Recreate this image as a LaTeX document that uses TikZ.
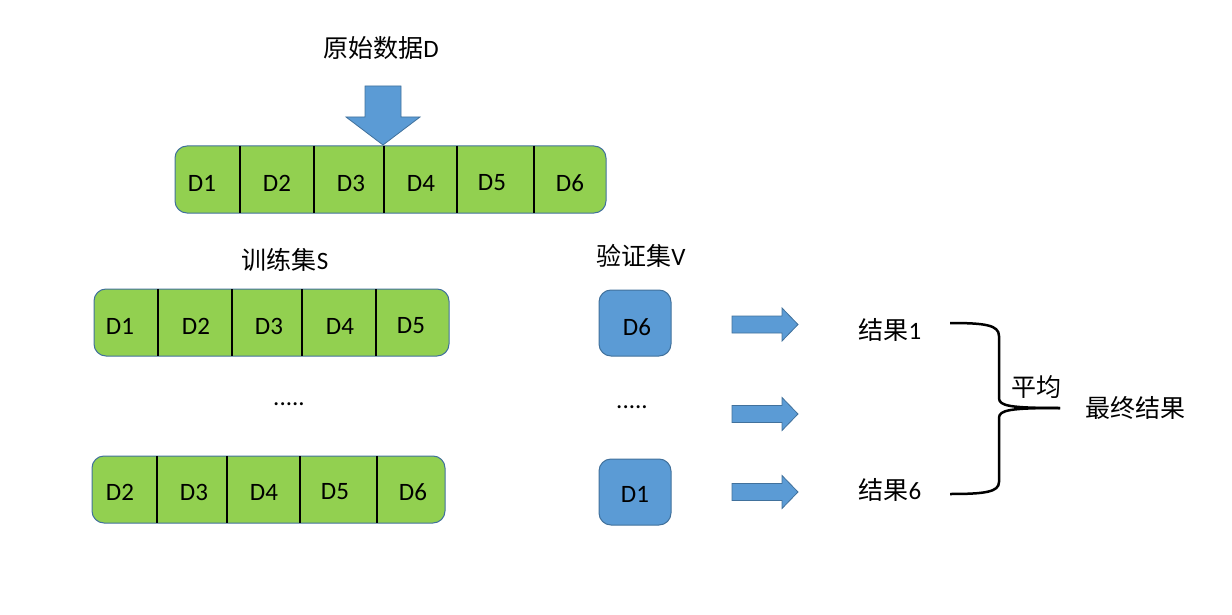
\documentclass[tikz,border=0pt]{standalone}
\usepackage{fontspec}
\setmainfont{Carlito}
\newfontfamily\cjk{Noto Sans CJK SC}
\definecolor{gfill}{HTML}{92D050}
\definecolor{bfill}{HTML}{5B9BD5}
\definecolor{bline}{HTML}{41719C}
\tikzset{
  txt/.style={inner sep=0pt, font=\fontsize{25}{30}\selectfont},
  gbar/.style={draw=bline, fill=gfill, line width=1pt, rounded corners=12pt, inner sep=0pt},
  bbox/.style={draw=bline, fill=bfill, line width=1pt, rounded corners=12pt, inner sep=0pt, minimum width=72pt, minimum height=66pt},
  divider/.style={line width=2pt, black},
  barrow/.style={draw=bline, fill=bfill, line width=0.8pt},
  brace/.style={line width=2.5pt, black}
}
\begin{document}
\begin{tikzpicture}[x=1pt,y=-1pt]
\useasboundingbox (0,0) rectangle (1232,615);
% title
\node[txt] (title) at (381,48) {{\cjk 原始数据}D};
% down arrow
\draw[barrow] (365,86)--(401,86)--(401,117)--(420,117)--(383,145)--(346,117)--(365,117)--cycle;
% top bar
\node[gbar, minimum width=431pt, minimum height=67pt] (bar0) at (390.5,179.5) {};
\foreach \x in {240,314,384,457,534} \draw[divider] (\x,146) -- (\x,213);
\foreach \x/\t [count=\i] in {202/D1,277/D2,351/D3,421/D4,492/D5,570/D6}
  \node[txt] (t\i) at (\x,183) {\t};
% training set
\node[txt] (train) at (285,260) {{\cjk 训练集}S};
\node[gbar, minimum width=355pt, minimum height=67pt] (bar1) at (271.5,322.5) {};
\foreach \x in {158,232,302,376} \draw[divider] (\x,289) -- (\x,356);
\foreach \x/\t [count=\i] in {120/D1,196/D2,269/D3,340/D4,411/D5}
  \node[txt] (a\i) at (\x,326) {\t};
\node[txt] (dots1) at (289,404) {.....};
\node[gbar, minimum width=353pt, minimum height=67pt] (bar2) at (268.5,489.5) {};
\foreach \x in {157,227,300,377} \draw[divider] (\x,456) -- (\x,523);
\foreach \x/\t [count=\i] in {120/D2,194/D3,264/D4,335/D5,413/D6}
  \node[txt] (b\i) at (\x,492) {\t};
% validation set
\node[txt] (val) at (641,256) {{\cjk 验证集}V};
\node[bbox] (v1) at (635,323) {};
\node[txt] (v1t) at (637,327) {D6};
\node[txt] (dots2) at (632,407) {.....};
\node[bbox] (v2) at (635,492) {};
\node[txt] (v2t) at (635,494) {D1};
% right arrows
\foreach \y in {324.5,414,492}
  \draw[barrow] (732,\y-8.5)--(782,\y-8.5)--(782,\y-16.5)--(798,\y)--(782,\y+16.5)--(782,\y+8.5)--(732,\y+8.5)--cycle;
% results
\node[txt] (r1) at (890,330) {{\cjk 结果}1};
\node[txt] (r6) at (890,490) {{\cjk 结果}6};
% brace
\coordinate (btop) at (950,323);
\coordinate (bbot) at (950,494);
\coordinate (bmid) at (1060,408);
\draw[brace] (btop) .. controls (985,323) and (999,325) .. (999,336) -- (999,398)
  .. controls (999,406) and (1010,408) .. (bmid);
\draw[brace] (bmid) .. controls (1010,408) and (999,410) .. (999,418) -- (999,482)
  .. controls (999,492) and (985,494) .. (bbot);
\node[txt] (avg) at (1036,387) {\cjk 平均};
\node[txt] (final) at (1135,408) {\cjk 最终结果};
\end{tikzpicture}
\end{document}
